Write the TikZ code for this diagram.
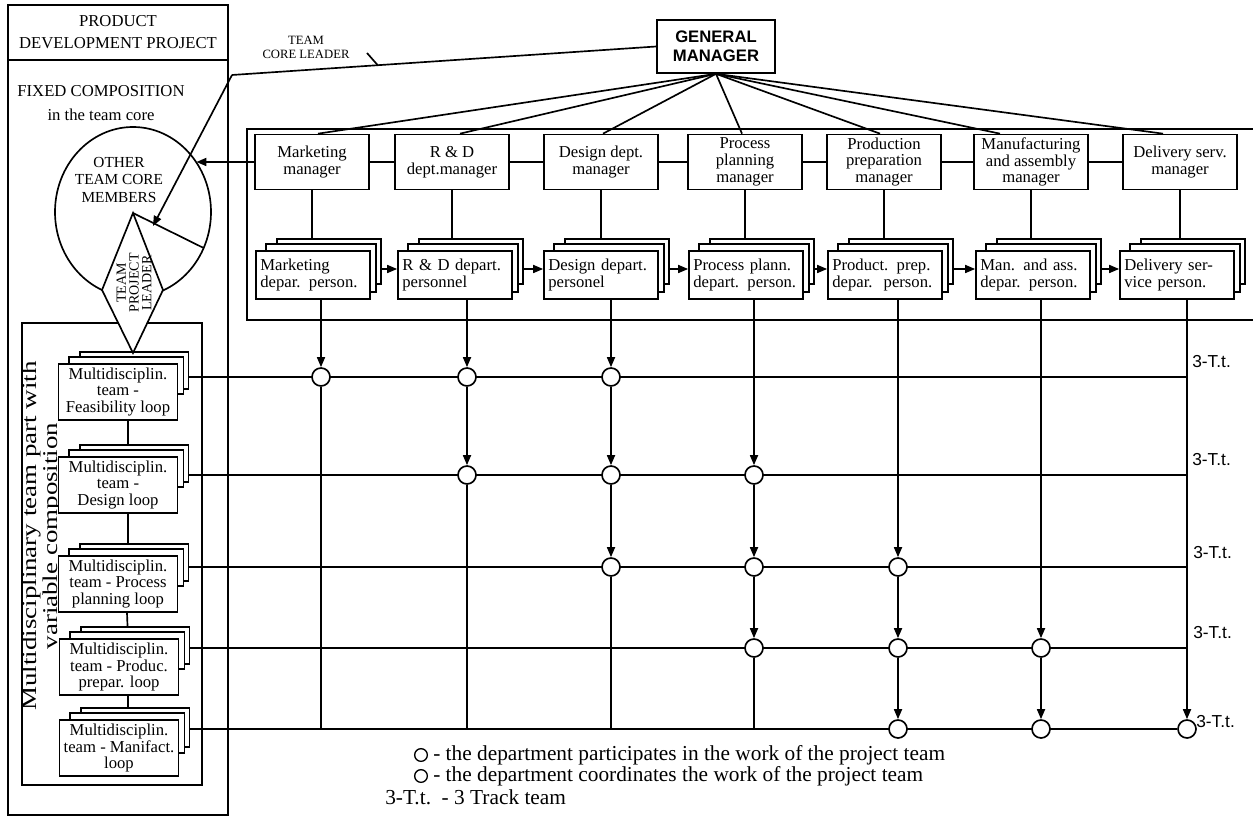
\documentclass[tikz,border=0pt]{standalone}
\usepackage{fontspec}
\setmainfont{Liberation Serif}
\newfontfamily\sansf{Liberation Sans}
\usetikzlibrary{arrows.meta,shapes.geometric,calc}
\pgfdeclarelayer{lines}
\pgfdeclarelayer{backs}
\pgfsetlayers{lines,backs,main}
\tikzset{
  ln/.style={line width=1.25pt},
  arr/.style={ln,-{Triangle[length=7.5pt,width=6pt]}},
  mgr/.style={draw,ln,fill=white,minimum width=85.5pt,minimum height=41.25pt,inner sep=1pt,align=center,font=\fontsize{12.5}{12.5}\selectfont},
  pers/.style={draw,ln,fill=white,minimum width=85.5pt,minimum height=36pt,inner sep=0pt,text width=79pt,align=left,font=\fontsize{12.5}{13}\selectfont},
  team/.style={draw,ln,fill=white,minimum width=89.25pt,minimum height=42pt,inner sep=1pt,align=center,font=\fontsize{12.5}{12.5}\selectfont},
  bk/.style={draw,ln,fill=white},
  dot/.style={circle,draw,ln,fill=white,minimum size=13.5pt,inner sep=0pt},
  ttl/.style={font=\sansf\fontsize{13}{13}\selectfont,anchor=west,inner sep=0pt},
  leg/.style={anchor=west,inner sep=0pt,font=\fontsize{16}{16}\selectfont},
  legdot/.style={circle,draw,line width=1pt,minimum size=9.5pt,inner sep=0pt},
}
% #1 style, #2 name, #3 position, #4 text, #5 back-box bottom rise, #6 middle-box bottom rise
\newcommand{\stk}[6]{%
  \node[#1] (#2) at #3 {#4};
  \begin{pgfonlayer}{backs}
    \draw[bk] ($(#2.north west)+(22,-11)$) rectangle ($(#2.south east)+(10,-#5)$);
    \draw[bk] ($(#2.north west)+(11,-6)$) rectangle ($(#2.south east)+(5,-#6)$);
  \end{pgfonlayer}}
\begin{document}
\begin{tikzpicture}[x=0.75pt,y=-0.75pt]
\useasboundingbox (0,0) rectangle (1253,830);

% ---------- left project box ----------
\draw[ln] (8,5) rectangle (228,815);
\draw[ln] (8,60) -- (228,60);
\node[align=center,font=\fontsize{12.5}{17}\selectfont] (hdr) at (118,32) {PRODUCT\\DEVELOPMENT PROJECT};
\node[align=center,font=\fontsize{12.5}{18}\selectfont] (fixed) at (101,103) {FIXED COMPOSITION\\in the team core};
\draw[ln] (22,323) rectangle (202,785);
\node[rotate=90,yscale=0.78,align=center,inner sep=0pt,font=\fontsize{20.2}{20.5}\selectfont] (mlt) at (42,536) {Multidisciplinary team part with\\variable composition};

% core circle and leader diamond
\node[ellipse,draw,ln,fill=white,minimum width=117pt,minimum height=127.5pt,inner sep=0pt,outer sep=0pt] (core) at (133,212) {};
\node[align=center,font=\fontsize{11.5}{13}\selectfont] (oth) at (119,180) {OTHER\\TEAM CORE\\MEMBERS};
\coordinate (dT) at (133,213);
\coordinate (dR) at (163,290);
\coordinate (dB) at (133,353);
\coordinate (dL) at (102,290);
\draw[ln] (dT) -- (core.-27);
\draw[ln,fill=white] (dT) -- (dR) -- (dB) -- (dL) -- cycle;
\node[rotate=90,align=center,inner sep=0pt,font=\fontsize{10.5}{9.5}\selectfont] (tpl) at (134,283) {TEAM\\PROJECT\\LEADER};

% ---------- general manager ----------
\node[draw,ln,fill=white,minimum width=88.5pt,minimum height=39.75pt,align=center,inner sep=1pt,font=\sansf\bfseries\fontsize{12.5}{14}\selectfont] (gm) at (716,46.5) {GENERAL\\MANAGER};
\node[align=center,inner sep=0pt,font=\fontsize{9.5}{10.5}\selectfont] (tcl-lab) at (306,47) {TEAM\\CORE LEADER};
\coordinate (tcl) at (232,75);
\coordinate (tip) at (153,226);
\coordinate (tk1) at (367,53);
\coordinate (tk2) at (378,65.5);
\draw[ln] (gm.west) -- (tcl);
\draw[arr] (tcl) -- (tip);
\draw[ln] (tk1) -- (tk2);

% ---------- departments box ----------
\draw[ln] (1253,129) -- (247,129) -- (247,320) -- (1253,320);

\node[mgr] (mk) at (312,162) {Marketing\\manager};
\node[mgr] (rd) at (452,162) {R \& D\\dept.manager};
\node[mgr] (ds) at (601,162) {Design dept.\\manager};
\node[mgr] (pp) at (745,162) {Process\\planning\\manager};
\node[mgr] (pr) at (884,162) {Production\\preparation\\manager};
\node[mgr] (ma) at (1031,162) {Manufacturing\\and assembly\\manager};
\node[mgr] (dl) at (1180,162) {Delivery serv.\\manager};

\stk{pers}{mkp}{(313,275)}{Marketing\\depar. person.}{16}{8}
\stk{pers}{rdp}{(455,275)}{R \& D depart.\\personnel}{16}{8}
\stk{pers}{dsp}{(601,275)}{Design depart.\\personel}{16}{8}
\stk{pers}{ppp}{(746,275)}{Process plann.\\depart. person.}{16}{8}
\stk{pers}{prp}{(885,275)}{Product. prep.\\depar.\ \ person.}{16}{8}
\stk{pers}{map}{(1033,275)}{Man. and ass.\\depar. person.}{16}{8}
\stk{pers}{dlp}{(1177,275)}{Delivery ser-\\vice person.}{16}{8}

\foreach \n/\o in {mk/6,rd/8,ds/2,pp/-3,pr/-4,ma/-31,dl/-17}
  \draw[ln] (gm.south) -- ($(\n.north)+(\o,0)$);
\draw[arr] (mk.west) -- (mk.west -| core.38);
\draw[ln] (mk.east) -- (rd.west);
\draw[ln] (rd.east) -- (ds.west);
\draw[ln] (ds.east) -- (pp.west);
\draw[ln] (pp.east) -- (pr.west);
\draw[ln] (pr.east) -- (ma.west);
\draw[ln] (ma.east) -- (dl.west);
\begin{pgfonlayer}{lines}
\foreach \a/\b in {mk/mkp,rd/rdp,ds/dsp,pp/ppp,pr/prp,ma/map,dl/dlp}
  \draw[ln] (\a.south) -- (\a.south |- \b.north);
\end{pgfonlayer}
\draw[arr] ($(mkp.east)+(10,-6)$) -- ($(rdp.west)+(0,-6)$);
\draw[arr] ($(rdp.east)+(10,-6)$) -- ($(dsp.west)+(0,-6)$);
\draw[arr] ($(dsp.east)+(10,-6)$) -- ($(ppp.west)+(0,-6)$);
\draw[arr] ($(ppp.east)+(10,-6)$) -- ($(prp.west)+(0,-6)$);
\draw[arr] ($(prp.east)+(10,-6)$) -- ($(map.west)+(0,-6)$);
\draw[arr] ($(map.east)+(10,-6)$) -- ($(dlp.west)+(0,-6)$);

% ---------- team loops ----------
\stk{team}{feas}{(118,392)}{Multidisciplin.\\team -\\Feasibility loop}{32}{27}
\stk{team}{desl}{(118,485)}{Multidisciplin.\\team -\\Design loop}{32}{27}
\stk{team}{prl}{(118,584)}{Multidisciplin.\\team - Process\\planning loop}{32}{27}
\stk{team}{ppl}{(119,667)}{Multidisciplin.\\team - Produc.\\prepar. loop}{32}{27}
\stk{team}{mfl}{(119,748)}{Multidisciplin.\\team - Manifact.\\loop}{30}{24}
\begin{pgfonlayer}{lines}
\draw[ln] ($(feas.south)+(10,0)$) -- ($(desl.north)+(10,0)$);
\draw[ln] ($(desl.south)+(10,0)$) -- ($(prl.north)+(10,0)$);
\draw[ln] ($(prl.south)+(9,0)$) -- ($(ppl.north)+(9,0)$);
\draw[ln] ($(ppl.south)+(9,0)$) -- ($(mfl.north)+(9,0)$);
\end{pgfonlayer}

% ---------- matrix ----------
\coordinate (re1) at (1187,377);
\coordinate (re2) at (1187,475);
\coordinate (re3) at (1187,567);
\coordinate (re4) at (1187,648);
\coordinate (b1) at (321,729);
\coordinate (b2) at (467,729);
\coordinate (b3) at (611,729);
\coordinate (b4) at (754,729);
\node[dot] (c11) at (321,377) {};
\node[dot] (c21) at (467,377) {};
\node[dot] (c22) at (467,475) {};
\node[dot] (c31) at (611,377) {};
\node[dot] (c32) at (611,475) {};
\node[dot] (c33) at (611,567) {};
\node[dot] (c42) at (754,475) {};
\node[dot] (c43) at (754,567) {};
\node[dot] (c44) at (754,648) {};
\node[dot] (c53) at (898,567) {};
\node[dot] (c54) at (898,648) {};
\node[dot] (c55) at (898,729) {};
\node[dot] (c64) at (1041,648) {};
\node[dot] (c65) at (1041,729) {};
\node[dot] (c75) at (1187,729) {};

\begin{pgfonlayer}{lines}
\draw[ln] (feas.east |- re1) -- (re1);
\draw[ln] (desl.east |- re2) -- (re2);
\draw[ln] (prl.east |- re3) -- (re3);
\draw[ln] (ppl.east |- re4) -- (re4);
\draw[ln] (mfl.east |- c75) -- (c75);
\end{pgfonlayer}

\draw[arr] (c11 |- mkp.south) -- (c11);
\draw[ln] (c11) -- (b1);
\draw[arr] (c21 |- rdp.south) -- (c21);
\draw[arr] (c21) -- (c22);
\draw[ln] (c22) -- (b2);
\draw[arr] (c31 |- dsp.south) -- (c31);
\draw[arr] (c31) -- (c32);
\draw[arr] (c32) -- (c33);
\draw[ln] (c33) -- (b3);
\draw[arr] (c42 |- ppp.south) -- (c42);
\draw[arr] (c42) -- (c43);
\draw[arr] (c43) -- (c44);
\draw[ln] (c44) -- (b4);
\draw[arr] (c53 |- prp.south) -- (c53);
\draw[arr] (c53) -- (c54);
\draw[arr] (c54) -- (c55);
\draw[arr] (c64 |- map.south) -- (c64);
\draw[arr] (c64) -- (c65);
\draw[arr] (c75 |- dlp.south) -- (c75);

\node[ttl] (t1) at (1192,362) {3-T.t.};
\node[ttl] (t2) at (1192,460) {3-T.t.};
\node[ttl] (t3) at (1193,553) {3-T.t.};
\node[ttl] (t4) at (1193,633) {3-T.t.};
\node[ttl] (t5) at (1196,722) {3-T.t.};

% ---------- legend ----------
\node[legdot] (lg1) at (421,755) {};
\node[leg] (lt1) at (433,755) {- the department participates in the work of the project team};
\node[legdot] (lg2) at (421,776) {};
\node[leg] (lt2) at (433,776) {- the department coordinates the work of the project team};
\node[leg] (lt3) at (385,797) {3-T.t.\ \ - 3 Track team};
\end{tikzpicture}
\end{document}
